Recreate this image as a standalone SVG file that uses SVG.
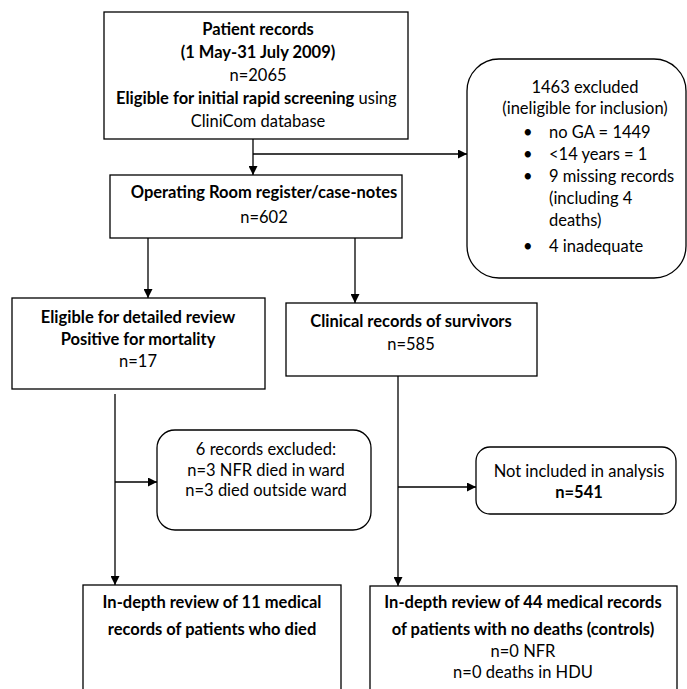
<svg xmlns="http://www.w3.org/2000/svg" width="687" height="689" viewBox="0 0 687 689">
<style>
.box{fill:#fff;stroke:#000;stroke-width:1.3}
.ln{fill:none;stroke:#000;stroke-width:1.3}
text{font-family:Lato,"Open Sans","Liberation Sans",sans-serif;font-size:16.5px;fill:#000}
.b{font-weight:bold}
.c{text-anchor:middle}
</style>
<defs>
<marker id="ah" viewBox="0 0 10 10" refX="10" refY="5" markerWidth="9" markerHeight="9" markerUnits="userSpaceOnUse" orient="auto">
<path d="M0,0 L10,5 L0,10 z" fill="#000"/>
</marker>
</defs>
<rect width="687" height="689" fill="#fff"/>
<g id="connectors">
<path class="ln" d="M253,139 V175" marker-end="url(#ah)"/>
<path class="ln" d="M253,154 H467" marker-end="url(#ah)"/>
<path class="ln" d="M148,238 V298" marker-end="url(#ah)"/>
<path class="ln" d="M355,238 V303" marker-end="url(#ah)"/>
<path class="ln" d="M115,394 V585" marker-end="url(#ah)"/>
<path class="ln" d="M115,482 H157" marker-end="url(#ah)"/>
<path class="ln" d="M398,376 V586" marker-end="url(#ah)"/>
<path class="ln" d="M398,487 H476" marker-end="url(#ah)"/>
</g>
<g id="patient-records">
<rect class="box" x="104" y="12" width="304" height="127"/>
<text class="c b" x="258" y="35">Patient records</text>
<text class="c b" x="258" y="58">(1 May-31 July 2009)</text>
<text class="c" x="258" y="81">n=2065</text>
<text x="116" y="104"><tspan class="b">Eligible for initial rapid screening</tspan> using</text>
<text class="c" x="258" y="127">CliniCom database</text>
</g>
<g id="excluded-1463">
<rect class="box" x="467" y="59" width="219" height="219" rx="32"/>
<text class="c" x="585" y="93">1463 excluded</text>
<text class="c" x="585" y="114">(ineligible for inclusion)</text>
<text x="523" y="138">•</text><text x="549" y="138">no GA = 1449</text>
<text x="523" y="160">•</text><text x="549" y="160">&lt;14 years = 1</text>
<text x="523" y="182">•</text><text x="549" y="182">9 missing records</text>
<text x="549" y="204">(including 4</text>
<text x="549" y="226">deaths)</text>
<text x="523" y="252">•</text><text x="549" y="252">4 inadequate</text>
</g>
<g id="operating-room">
<rect class="box" x="110" y="175" width="292" height="63"/>
<text class="c b" x="264" y="198">Operating Room register/case-notes</text>
<text class="c" x="264" y="223">n=602</text>
</g>
<g id="eligible-detailed">
<rect class="box" x="12" y="298" width="253" height="91"/>
<text class="c b" x="138" y="323">Eligible for detailed review</text>
<text class="c b" x="138" y="345">Positive for mortality</text>
<text class="c" x="138" y="367">n=17</text>
</g>
<g id="clinical-survivors">
<rect class="box" x="286" y="303" width="251" height="73"/>
<text class="c b" x="411" y="327">Clinical records of survivors</text>
<text class="c" x="411" y="350">n=585</text>
</g>
<g id="records-excluded-6">
<rect class="box" x="157" y="430" width="214" height="100" rx="18"/>
<text class="c" x="266" y="455">6 records excluded:</text>
<text class="c" x="266" y="476">n=3 NFR died in ward</text>
<text class="c" x="266" y="496">n=3 died outside ward</text>
</g>
<g id="not-included">
<rect class="box" x="476" y="447" width="200" height="67" rx="14"/>
<text class="c" x="579" y="477">Not included in analysis</text>
<text class="c b" x="579" y="498">n=541</text>
</g>
<g id="review-died">
<rect class="box" x="83" y="585" width="258" height="110"/>
<text class="c b" x="212" y="608">In-depth review of 11 medical</text>
<text class="c b" x="212" y="635">records of patients who died</text>
</g>
<g id="review-controls">
<rect class="box" x="370" y="586" width="307" height="110"/>
<text class="c b" x="523" y="608">In-depth review of 44 medical records</text>
<text class="c b" x="523" y="635">of patients with no deaths (controls)</text>
<text class="c" x="523" y="657">n=0 NFR</text>
<text class="c" x="523" y="678">n=0 deaths in HDU</text>
</g>
</svg>
